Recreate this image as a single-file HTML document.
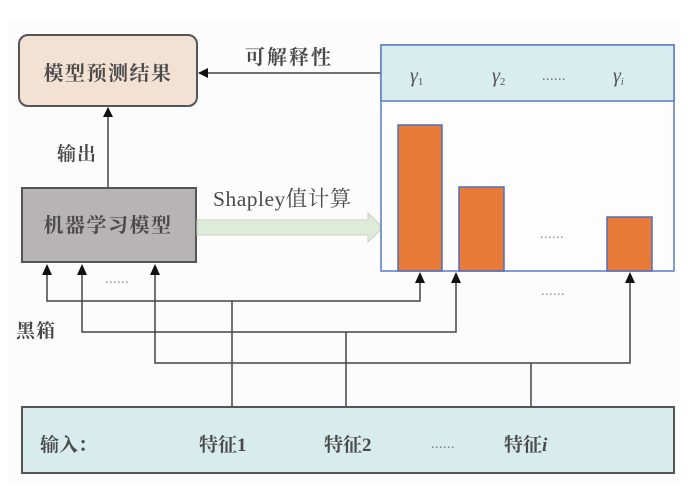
<!DOCTYPE html>
<html><head><meta charset="utf-8">
<style>
html,body{margin:0;padding:0;background:#fff;}
svg{display:block;}
.t{font-family:"Liberation Serif","Noto Serif CJK SC",serif;font-weight:bold;fill:#4a4a4a;}
</style></head>
<body>
<svg width="700" height="499" viewBox="0 0 700 499" xmlns="http://www.w3.org/2000/svg">
<defs>
<marker id="ah" markerWidth="10" markerHeight="10" refX="9" refY="5" orient="auto" markerUnits="userSpaceOnUse">
<path d="M0,0 L10,5 L0,10 z" fill="#111"/>
</marker>
</defs>
<rect x="8" y="20" width="672" height="462" fill="#fcfcfc"/>

<!-- top result box -->
<rect x="19" y="35" width="178" height="71" rx="9" ry="9" fill="#f3e1d4" stroke="#555" stroke-width="2"/>
<text x="108" y="80" class="t" font-size="20" text-anchor="middle" letter-spacing="1.5">模型预测结果</text>

<!-- interpretability arrow -->
<line x1="381" y1="73" x2="199" y2="73" stroke="#444" stroke-width="1.5" marker-end="url(#ah)"/>
<text x="289" y="64" class="t" font-size="20" text-anchor="middle" letter-spacing="2">可解释性</text>

<!-- output arrow -->
<line x1="108" y1="188" x2="108" y2="108" stroke="#444" stroke-width="1.5" marker-end="url(#ah)"/>
<text x="57" y="160" class="t" font-size="19" letter-spacing="1">输出</text>

<!-- ML model box -->
<rect x="22" y="188" width="174" height="74" fill="#b6b4b4" stroke="#555" stroke-width="2"/>
<text x="108" y="232" class="t" font-size="20" text-anchor="middle" letter-spacing="1.5">机器学习模型</text>

<!-- Shapley arrow -->
<path d="M197,220 L368,220 L368,213 L383,227.5 L368,242 L368,235 L197,235 z" fill="#dfebd9" stroke="#c3d3bd" stroke-width="1"/>
<text x="213" y="206" font-family="Liberation Serif,'Noto Serif CJK SC',serif" font-size="21.5" letter-spacing="0.5" style="font-weight:normal" fill="#4a4a4a">Shapley值计算</text>

<!-- right panel -->
<rect x="381" y="45" width="293" height="226" fill="#fdfdfd" stroke="#5b78c8" stroke-width="1.5"/>
<rect x="381" y="45" width="293" height="56" fill="#d8eded" stroke="#5b78c8" stroke-width="1.5"/>
<text x="410" y="82" font-family="Liberation Serif,serif" font-style="italic" font-size="20" fill="#555">γ<tspan font-size="11" dy="3" font-style="normal">1</tspan></text>
<text x="492" y="82" font-family="Liberation Serif,serif" font-style="italic" font-size="20" fill="#555">γ<tspan font-size="11" dy="3" font-style="normal">2</tspan></text>
<text x="542" y="80" font-family="Liberation Serif,serif" font-size="14" fill="#666" letter-spacing="0.5">......</text>
<text x="613" y="82" font-family="Liberation Serif,serif" font-style="italic" font-size="20" fill="#555">γ<tspan font-size="10" dy="3">i</tspan></text>

<!-- bars -->
<rect x="398" y="125" width="44" height="146" fill="#e97b38" stroke="#4f6ec6" stroke-width="1.5"/>
<rect x="459" y="187" width="45" height="84" fill="#e97b38" stroke="#4f6ec6" stroke-width="1.5"/>
<rect x="607" y="217" width="45" height="54" fill="#e97b38" stroke="#4f6ec6" stroke-width="1.5"/>
<text x="540" y="238" font-family="Liberation Serif,serif" font-size="14" fill="#888" letter-spacing="0.5">......</text>

<!-- dots -->
<text x="105" y="283" font-family="Liberation Serif,serif" font-size="14" fill="#888" letter-spacing="0.5">......</text>
<text x="541" y="295" font-family="Liberation Serif,serif" font-size="14" fill="#888" letter-spacing="0.5">......</text>

<!-- black box label -->
<text x="16" y="337" class="t" font-size="19" letter-spacing="1">黑箱</text>

<!-- connector lines -->
<g fill="none" stroke="#444" stroke-width="1.5">
<polyline points="47,266 47,301 420,301 420,275" />
<polyline points="82,266 82,332 456,332 456,275" />
<polyline points="155,266 155,363 630,363 630,275" />
<line x1="232" y1="301" x2="232" y2="407"/>
<line x1="346" y1="332" x2="346" y2="407"/>
<line x1="531" y1="363" x2="531" y2="407"/>
</g>
<g fill="#111">
<path d="M47,264 L42,275 L52,275 z"/>
<path d="M82,264 L77,275 L87,275 z"/>
<path d="M155,264 L150,275 L160,275 z"/>
<path d="M420,272 L415,283 L425,283 z"/>
<path d="M456,272 L451,283 L461,283 z"/>
<path d="M630,272 L625,283 L635,283 z"/>
</g>

<!-- input box -->
<rect x="22" y="407" width="652" height="66" fill="#d8eced" stroke="#555" stroke-width="2"/>
<text x="40" y="451" class="t" font-size="19">输入：</text>
<text x="199" y="451" class="t" font-size="19">特征1</text>
<text x="324" y="451" class="t" font-size="19">特征2</text>
<text x="431" y="448" font-family="Liberation Serif,serif" font-size="14" fill="#777" letter-spacing="0.5">......</text>
<text x="504" y="451" class="t" font-size="19">特征<tspan font-style="italic">i</tspan></text>
</svg>
</body></html>
